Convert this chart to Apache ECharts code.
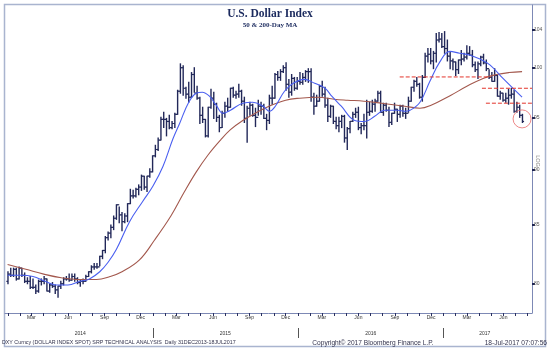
<!DOCTYPE html>
<html><head><meta charset="utf-8">
<script src="https://cdn.jsdelivr.net/npm/echarts@6/dist/echarts.min.js"></script>
<style>html,body{margin:0;padding:0;background:#fff}#c{width:549px;height:352px}</style>
</head><body><div id="c"></div>
<script>
// Weekly bars (weeks starting Wed 2014-01-01, step 7 days) : low / high / close
const weekStart = '2014-01-01';
const prevClose = 80.2; // 31DEC2013
const lows = [
80.0,80.6,80.6,80.3,80.4,80.6,80.1,80.0,79.6,79.6,79.2,79.3,79.9,80.0,79.4,79.3,79.7,79.2,78.9,79.6,79.9,80.3,80.2,80.3,80.2,80.0,79.8,80.0,80.2,80.6,80.9,81.2,81.3,81.5,82.1,82.6,83.7,83.9,84.6,85.5,85.2,84.5,85.2,85.3,86.9,87.4,87.5,87.7,88.1,88.2,88.0,89.3,
89.8,91.2,91.8,92.8,94.0,93.2,93.9,93.9,94.0,95.3,97.4,97.2,96.9,96.5,97.0,97.5,96.8,94.4,94.5,93.1,93.1,95.9,94.9,94.6,93.6,94.0,95.0,95.6,96.0,97.0,96.9,97.0,96.2,94.5,92.6,95.2,95.1,94.1,95.2,95.3,94.9,93.8,94.4,96.3,96.9,98.7,98.7,99.5,97.7,97.0,97.2,97.7,
97.8,98.3,98.3,98.6,98.5,96.6,95.3,96.1,96.6,97.1,96.0,94.6,95.0,94.4,93.9,93.6,94.0,92.6,91.9,93.5,94.6,95.0,93.8,93.4,93.8,93.0,95.2,95.5,95.6,96.6,95.5,95.2,95.6,94.1,94.3,95.4,94.6,95.0,95.1,94.9,95.5,96.6,97.6,98.1,96.9,96.6,99.0,100.6,100.4,99.9,100.6,102.7,102.1,
101.5,100.7,99.9,99.8,99.2,99.4,100.3,100.7,100.9,101.3,100.1,99.6,98.9,100.2,100.4,99.7,98.9,98.6,98.6,97.1,96.8,96.6,96.5,96.3,96.9,95.5,95.5,95.0,94.5
];
const highs = [
81.0,81.3,81.3,81.3,81.4,81.3,80.9,80.5,80.6,80.4,79.9,80.3,80.4,80.6,80.4,80.0,80.1,79.9,79.8,80.2,80.5,80.6,80.8,80.8,80.8,80.5,80.3,80.4,80.7,81.0,81.5,81.7,81.7,82.3,82.8,84.0,84.4,85.0,85.8,86.8,86.6,86.1,86.0,86.9,88.2,88.1,88.3,88.6,89.5,89.4,89.4,90.1,
91.3,92.3,93.0,95.0,95.5,94.9,95.2,94.6,95.4,97.7,100.4,100.2,98.0,98.5,99.5,100.0,98.1,97.0,96.0,94.8,96.0,97.8,97.5,96.4,95.2,95.6,96.5,96.9,97.9,98.0,97.6,98.3,97.7,97.0,96.1,96.5,96.3,95.9,96.7,96.5,96.3,95.3,97.2,98.1,99.4,99.6,99.8,100.2,100.5,98.8,99.3,99.0,
99.0,99.5,99.4,99.7,99.9,99.9,97.4,97.2,98.2,98.6,98.0,96.9,96.2,96.1,95.0,95.0,95.2,95.2,94.0,94.6,95.5,95.9,96.0,94.4,95.3,96.7,96.5,96.7,96.8,97.6,97.6,96.4,96.4,96.0,95.4,96.4,95.8,96.2,96.2,95.9,97.0,98.0,98.7,99.0,98.4,99.2,101.5,102.0,102.0,101.7,103.6,103.7,103.6,
103.8,102.9,101.6,100.9,100.6,100.8,101.8,101.5,102.3,102.2,101.8,100.6,100.6,101.2,101.4,100.8,99.8,99.5,99.9,99.2,97.6,97.4,97.4,97.8,97.9,97.7,96.5,96.2,95.3
];
const closes = [
80.8,80.7,81.2,80.4,81.3,80.7,80.2,80.2,79.7,79.7,79.4,80.2,80.2,80.4,79.4,79.9,79.8,79.5,79.8,80.0,80.4,80.4,80.3,80.6,80.4,80.1,80.2,80.2,80.6,81.0,81.4,81.4,81.4,82.3,82.8,83.9,84.3,84.8,85.6,86.8,85.9,85.3,85.8,86.9,87.6,87.6,88.2,88.4,89.4,88.4,89.4,89.8,
91.3,91.9,92.8,94.8,94.8,94.6,94.0,94.4,95.3,97.6,100.0,97.9,97.3,97.0,99.3,97.4,96.9,95.2,94.8,93.2,96.0,96.9,96.3,95.0,94.0,95.4,96.1,96.0,97.9,97.2,97.3,97.6,96.6,94.9,95.9,96.2,95.2,95.0,96.1,96.1,94.9,94.7,96.9,96.9,99.3,99.0,99.6,100.0,98.3,97.5,98.9,97.9,
98.6,98.5,99.0,99.6,99.6,97.0,96.1,96.6,98.1,97.3,96.2,95.1,96.1,94.6,94.2,94.6,95.1,93.0,93.9,94.6,95.3,95.5,94.0,94.2,94.2,95.5,95.6,96.3,96.6,97.4,95.5,96.2,95.7,94.5,95.4,95.8,95.3,96.1,95.4,95.4,96.6,98.0,98.6,98.3,97.0,99.0,101.2,101.4,100.7,101.5,102.9,103.0,102.2,
102.0,101.2,100.7,100.6,99.8,100.8,100.9,101.1,101.5,101.3,100.3,99.8,100.4,101.1,100.5,99.9,99.0,98.6,99.2,97.1,97.4,96.7,96.9,97.2,97.3,95.6,96.0,95.2,94.6
];
// 200-day moving average
const ma200Dates = ['2013-12-31','2014-02-15','2014-04-01','2014-05-15','2014-07-01','2014-08-12','2014-09-15','2014-10-15','2014-11-28','2015-01-05','2015-02-15','2015-03-20','2015-04-20','2015-05-20','2015-06-20','2015-07-15','2015-08-15','2015-09-20','2015-10-20','2015-12-01','2016-01-05','2016-02-20','2016-04-01','2016-05-05','2016-06-15','2016-07-29','2016-09-26','2016-11-03','2016-12-01','2017-01-20','2017-03-01','2017-04-11','2017-05-15','2017-06-15','2017-07-18'];
const ma200Values = [81.6,81.2,80.8,80.5,80.35,80.35,80.6,81.0,82.0,83.7,85.8,87.9,89.8,91.4,92.8,93.8,94.7,95.5,96.1,96.7,96.9,97.0,96.8,96.7,96.6,96.4,96.1,95.9,96.2,97.2,98.1,98.9,99.3,99.5,99.6];
// 50-day moving average
const ma50Dates = ['2013-12-31','2014-02-01','2014-03-05','2014-04-05','2014-05-03','2014-06-01','2014-07-01','2014-07-25','2014-08-20','2014-09-10','2014-10-01','2014-11-03','2014-12-06','2015-01-01','2015-01-26','2015-02-20','2015-03-09','2015-04-01','2015-04-20','2015-05-05','2015-05-23','2015-06-09','2015-06-26','2015-07-15','2015-08-15','2015-09-09','2015-10-05','2015-10-21','2015-11-05','2015-11-28','2015-12-20','2016-01-17','2016-02-12','2016-03-09','2016-03-26','2016-04-19','2016-05-23','2016-06-17','2016-07-12','2016-08-06','2016-09-08','2016-09-26','2016-10-09','2016-11-03','2016-11-28','2016-12-23','2017-01-17','2017-02-11','2017-03-09','2017-04-03','2017-04-28','2017-05-31','2017-07-18'];
const ma50Values = [80.7,80.7,80.6,80.2,79.9,79.9,80.2,80.4,81.0,81.8,82.9,85.3,87.1,88.5,90.3,92.9,94.4,96.5,97.4,97.5,97.1,96.2,95.4,95.7,96.4,96.5,96.1,95.6,96.1,97.6,98.4,98.8,98.4,97.9,97.1,96.1,94.7,94.6,95.1,95.7,95.7,95.6,95.7,96.5,98.6,100.6,101.7,101.5,101.3,100.9,100.3,98.9,97.0];
// Annotation levels
const levelLines = [
  {from:'2016-09-13', to:'2017-04-30', value:99.05},
  {from:'2017-04-08', to:'2017-08-12', value:97.9},
  {from:'2017-04-18', to:'2017-08-12', value:96.4}
];
const circleMark = {date:'2017-07-18', value:94.85};
// Axis labels
const yTicks = [80,85,90,95,100,104];
const quarterLabelDates = ['2014-03-01','2014-06-01','2014-09-01','2014-12-01','2015-03-01','2015-06-01','2015-09-01','2015-12-01','2016-03-01','2016-06-01','2016-09-01','2016-12-01','2017-03-01','2017-06-01'];
const monthNames = ['Jan','Feb','Mar','Apr','May','Jun','Jul','Aug','Sep','Oct','Nov','Dec'];
const yearBoundaryDates = ['2015-01-01','2016-01-01','2017-01-01'];
const yearLabelDates = ['2014-07-02','2015-07-02','2016-07-02','2017-04-15'];

function P(s){const a=s.split('-').map(Number);return new Date(a[0],a[1]-1,a[2]).getTime();}
const xMin = new Date(2013,11,24,12).getTime();
const xMax = P('2017-08-12');
const ws = P(weekStart);
const ohlc = closes.map((c,i)=>{
  const d = new Date(ws); d.setDate(d.getDate()+7*i);
  const o = i===0 ? prevClose : closes[i-1];
  return [d.getTime(), o, c, lows[i], highs[i]];
});
const monthTicks = [];
for(let y=2014;y<=2017;y++){for(let m=0;m<12;m++){const t=new Date(y,m,1).getTime(); if(t<xMax) monthTicks.push(t);}}

const PRICE = '#222859';
const RED = '#e3342b';
const series = [
 {type:'custom', name:'DXY', clip:true, z:2,
  renderItem:function(params, api){
    const t=api.value(0);
    const pO=api.coord([t,api.value(1)]), pC=api.coord([t,api.value(2)]);
    const pL=api.coord([t,api.value(3)]), pH=api.coord([t,api.value(4)]);
    return {type:'group', children:[
      {type:'line', shape:{x1:pH[0],y1:pH[1]-0.5,x2:pL[0],y2:pL[1]+0.5}, style:{stroke:PRICE,lineWidth:1.4}},
      {type:'line', shape:{x1:pO[0]-1.6,y1:pO[1],x2:pO[0],y2:pO[1]}, style:{stroke:PRICE,lineWidth:1.2}},
      {type:'line', shape:{x1:pC[0],y1:pC[1],x2:pC[0]+1.6,y2:pC[1]}, style:{stroke:PRICE,lineWidth:1.2}}
    ]};
  },
  encode:{x:0,y:[1,2,3,4]}, data:ohlc},
 {type:'line', name:'200-Day MA', data:ma200Dates.map((d,i)=>[P(d),ma200Values[i]]), smooth:0.4, showSymbol:false, z:3,
  lineStyle:{color:'#a3584d', width:1.1}},
 {type:'line', name:'50-Day MA', data:ma50Dates.map((d,i)=>[P(d),ma50Values[i]]), smooth:0.4, showSymbol:false, z:4,
  lineStyle:{color:'#4a5ff0', width:1.1}}
];
levelLines.forEach(l=>series.push({type:'line', data:[[P(l.from),l.value],[P(l.to),l.value]], showSymbol:false, z:5,
  lineStyle:{color:RED, width:1, type:[4,2]}}));
series.push({type:'scatter', data:[[P(circleMark.date), circleMark.value]], symbol:'circle', symbolSize:18, z:6,
  itemStyle:{color:'rgba(0,0,0,0)', borderColor:'#e86a6a', borderWidth:1}});

const SANS = '"Liberation Sans", Arial, sans-serif';
const FOOT = {fontFamily:'Liberation Sans', fill:'#33334d'};
const chart = echarts.init(document.getElementById('c'), null, {renderer:'canvas'});
chart.setOption({
  animation:false, backgroundColor:'#ffffff',
  grid:{left:5, right:17, top:5, bottom:39, containLabel:false},
  xAxis:[
   {type:'value', min:xMin, max:xMax, position:'bottom', scale:true,
    axisLine:{show:true, lineStyle:{color:'#7d89b5', width:1}},
    axisTick:{show:true, customValues:monthTicks, length:3, lineStyle:{color:'#2a3060'}},
    axisLabel:{customValues:quarterLabelDates.map(P), formatter:v=>monthNames[new Date(v).getMonth()], fontSize:5, margin:2, color:'#333', fontFamily:SANS},
    splitLine:{show:false}},
   {type:'value', min:xMin, max:xMax, position:'bottom', offset:15, scale:true,
    axisLine:{show:false},
    axisTick:{show:true, customValues:yearBoundaryDates.map(P), length:10, lineStyle:{color:'#555'}},
    axisLabel:{customValues:yearLabelDates.map(P), formatter:v=>String(new Date(v).getFullYear()), fontSize:5, margin:3, color:'#333', fontFamily:SANS},
    splitLine:{show:false}}
  ],
  yAxis:{type:'log', logBase:10, min:77.62, max:106.69, position:'right',
    axisLine:{show:true, lineStyle:{color:'#7d89b5', width:1}},
    axisTick:{show:true, customValues:yTicks, length:3, lineStyle:{color:'#1e2452', width:2}},
    axisLabel:{customValues:yTicks, fontSize:5, margin:2, color:'#555', fontFamily:SANS},
    splitLine:{show:false}},
  series:series,
  graphic:[
    {type:'rect', shape:{x:4.5,y:4.5,width:541,height:342}, style:{fill:'none', stroke:'#a9b4cf', lineWidth:1.5}, silent:true, z:-1},
    {type:'text', x:270, y:14, style:{text:'U.S. Dollar Index', align:'center', verticalAlign:'middle', font:'bold 11.5px "Liberation Serif"', fill:'#1b2a5e'}},
    {type:'text', x:270, y:25.5, style:{text:'50 & 200-Day MA', align:'center', verticalAlign:'middle', font:'bold 7px "Liberation Serif"', fill:'#1b2a5e'}},
    {type:'text', x:538, y:161, rotation:-Math.PI/2, style:{text:'LOG', align:'center', verticalAlign:'middle', font:'5.5px "Liberation Sans"', fill:'#888'}},
    {type:'text', x:2, y:343, style:Object.assign({text:'DXY Curncy (DOLLAR INDEX SPOT) SRP TECHNICAL ANALYSIS  Daily 31DEC2013-18JUL2017', align:'left', verticalAlign:'middle', fontSize:5.3}, FOOT)},
    {type:'text', x:373, y:343, style:Object.assign({text:'Copyright\u00a9 2017 Bloomberg Finance L.P.', align:'center', verticalAlign:'middle', fontSize:6.6}, FOOT)},
    {type:'text', x:547, y:343, style:Object.assign({text:'18-Jul-2017 07:07:56', align:'right', verticalAlign:'middle', fontSize:6.6}, FOOT)}
  ]
});
</script></body></html>
